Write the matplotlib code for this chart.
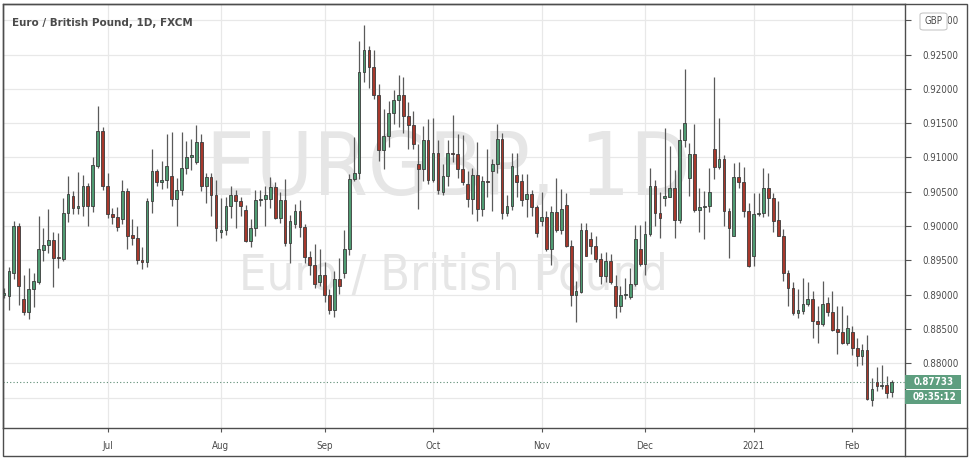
import numpy as np
import pandas as pd
import matplotlib
matplotlib.use("Agg")
import matplotlib.pyplot as plt
from matplotlib import font_manager
from matplotlib.patches import Rectangle, FancyBboxPatch
from matplotlib.lines import Line2D

# EUR/GBP daily bars, FXCM, 2 Jun 2020 - 11 Feb 2021 (Dec 25 / Jan 1 have no bar)
title = "Euro / British Pound, 1D, FXCM"
symbol = "EURGBP, 1D"
description = "Euro / British Pound"
currency = "GBP"
countdown = "09:35:12"

opens = [
    # Jun
    0.8900, 0.8898, 0.8932, 0.9000, 0.8894, 0.8875, 0.8908, 0.8919, 0.8965, 0.8973,
    0.8980, 0.8955, 0.8952, 0.9019, 0.9044, 0.9026, 0.9029, 0.9059, 0.9030, 0.9088, 0.9139,
    # Jul
    0.9059, 0.9018, 0.9013, 0.9011, 0.9051, 0.8987, 0.8983, 0.8951, 0.8948, 0.9036,
    0.9080, 0.9064, 0.9067, 0.9073, 0.9039, 0.9052, 0.9084, 0.9100, 0.9094, 0.9122,
    0.9058, 0.9071, 0.9046,
    # Aug
    0.8991, 0.8995, 0.9029, 0.9046, 0.9036, 0.9024, 0.8978, 0.8997, 0.9038, 0.9040,
    0.9040, 0.9057, 0.9012, 0.9038, 0.8975, 0.9003, 0.9022, 0.8998, 0.8955, 0.8944, 0.8918,
    # Sep
    0.8928, 0.8900, 0.8878, 0.8923, 0.8931, 0.8966, 0.9068, 0.9078, 0.9225, 0.9257,
    0.9232, 0.9191, 0.9111, 0.9131, 0.9165, 0.9184, 0.9191, 0.9160, 0.9147, 0.9091,
    0.9083, 0.9125,
    # Oct
    0.9067, 0.9106, 0.9049, 0.9073, 0.9107, 0.9105, 0.9083, 0.9062, 0.9039, 0.9075,
    0.9025, 0.9066, 0.9080, 0.9091, 0.9127, 0.9019, 0.9029, 0.9075, 0.9066, 0.9039,
    0.9047, 0.9028,
    # Nov
    0.9008, 0.9013, 0.8967, 0.9021, 0.8994, 0.9031, 0.8971, 0.8900, 0.8904, 0.8995,
    0.8981, 0.8971, 0.8952, 0.8927, 0.8949, 0.8913, 0.8883, 0.8899, 0.8897, 0.8916, 0.8967,
    # Dec
    0.8945, 0.8988, 0.9059, 0.9019, 0.9041, 0.9043, 0.9055, 0.9009, 0.9126, 0.9070,
    0.9105, 0.9023, 0.9028, 0.9029, 0.9112, 0.9086, 0.9098, 0.9022, 0.8986, 0.9072,
    0.9065, 0.9022,
    # Jan
    0.8957, 0.9018, 0.9019, 0.9055, 0.9041, 0.9009, 0.8986, 0.8932, 0.8910, 0.8874,
    0.8876, 0.8886, 0.8894, 0.8862, 0.8858, 0.8888, 0.8875, 0.8850, 0.8845, 0.8830,
    # Feb
    0.8845, 0.8823, 0.8811, 0.8819, 0.8747, 0.8773, 0.8767, 0.8769, 0.8758,
]
highs = [
    0.8910, 0.8940, 0.9007, 0.9005, 0.8929, 0.8939, 0.8931, 0.9015, 0.8997, 0.9025,
    0.8991, 0.8990, 0.9041, 0.9073, 0.9051, 0.9079, 0.9075, 0.9063, 0.9100, 0.9175, 0.9144,
    0.9078, 0.9026, 0.9028, 0.9067, 0.9055, 0.9011, 0.9000, 0.8969, 0.9041, 0.9112,
    0.9083, 0.9095, 0.9134, 0.9137, 0.9070, 0.9137, 0.9124, 0.9127, 0.9147, 0.9134,
    0.9078, 0.9077, 0.9067,
    0.9041, 0.9042, 0.9059, 0.9052, 0.9042, 0.9031, 0.9010, 0.9053, 0.9053, 0.9059,
    0.9071, 0.9064, 0.9050, 0.9068, 0.9016, 0.9032, 0.9038, 0.9003, 0.8963, 0.8974, 0.8967,
    0.8947, 0.8908, 0.8935, 0.8953, 0.8995, 0.9076, 0.9130, 0.9270, 0.9293, 0.9262,
    0.9257, 0.9207, 0.9170, 0.9183, 0.9198, 0.9220, 0.9217, 0.9181, 0.9168, 0.9120,
    0.9146, 0.9156,
    0.9158, 0.9125, 0.9090, 0.9126, 0.9162, 0.9134, 0.9133, 0.9080, 0.9085, 0.9122,
    0.9073, 0.9112, 0.9098, 0.9149, 0.9136, 0.9046, 0.9107, 0.9106, 0.9076, 0.9076,
    0.9053, 0.9031,
    0.9049, 0.9022, 0.9029, 0.9070, 0.9054, 0.9048, 0.8980, 0.8920, 0.9005, 0.9004,
    0.8992, 0.8985, 0.8961, 0.8962, 0.8960, 0.8929, 0.8912, 0.8925, 0.8939, 0.9002, 0.9002,
    0.9007, 0.9085, 0.9067, 0.9050, 0.9143, 0.9117, 0.9082, 0.9141, 0.9229, 0.9121,
    0.9149, 0.9055, 0.9051, 0.9085, 0.9218, 0.9157, 0.9104, 0.9026, 0.9092, 0.9093,
    0.9086, 0.9033,
    0.9048, 0.9048, 0.9085, 0.9077, 0.9048, 0.9036, 0.8996, 0.8936, 0.8918, 0.8908,
    0.8925, 0.8918, 0.8905, 0.8883, 0.8920, 0.8897, 0.8905, 0.8884, 0.8883, 0.8871,
    0.8854, 0.8837, 0.8828, 0.8841, 0.8778, 0.8794, 0.8797, 0.8781, 0.8776,
]
lows = [
    0.8895, 0.8877, 0.8923, 0.8885, 0.8870, 0.8865, 0.8882, 0.8916, 0.8949, 0.8961,
    0.8911, 0.8939, 0.8949, 0.9006, 0.9018, 0.9018, 0.9015, 0.9000, 0.9020, 0.9084, 0.9053,
    0.9012, 0.9003, 0.8993, 0.9003, 0.8966, 0.8972, 0.8945, 0.8938, 0.8940, 0.9019,
    0.9058, 0.9054, 0.9056, 0.9030, 0.9000, 0.9046, 0.9076, 0.9082, 0.9090, 0.9051,
    0.9034, 0.9015, 0.8979,
    0.8982, 0.8987, 0.9012, 0.8997, 0.9014, 0.8977, 0.8970, 0.8985, 0.9029, 0.9000,
    0.9026, 0.9010, 0.9005, 0.8971, 0.8946, 0.8997, 0.8984, 0.8946, 0.8929, 0.8910, 0.8912,
    0.8889, 0.8872, 0.8867, 0.8901, 0.8925, 0.8958, 0.9066, 0.9068, 0.9210, 0.9202,
    0.9185, 0.9095, 0.9083, 0.9116, 0.9149, 0.9144, 0.9135, 0.9113, 0.9113, 0.9025,
    0.9066, 0.9062,
    0.9065, 0.9047, 0.9046, 0.9059, 0.9094, 0.9070, 0.9060, 0.9028, 0.9018, 0.9007,
    0.9015, 0.9043, 0.9022, 0.9078, 0.9010, 0.9015, 0.9024, 0.9042, 0.9029, 0.9013,
    0.9014, 0.8984,
    0.9000, 0.8963, 0.8944, 0.8991, 0.8989, 0.8970, 0.8883, 0.8860, 0.8902, 0.8956,
    0.8960, 0.8947, 0.8915, 0.8918, 0.8915, 0.8866, 0.8875, 0.8894, 0.8894, 0.8913, 0.8942,
    0.8929, 0.8985, 0.9000, 0.8983, 0.9029, 0.9042, 0.8983, 0.9005, 0.9115, 0.9044,
    0.9020, 0.8991, 0.8981, 0.9020, 0.9069, 0.9083, 0.9000, 0.8954, 0.8985, 0.9055,
    0.9013, 0.8940,
    0.8942, 0.9014, 0.9013, 0.9014, 0.8992, 0.8985, 0.8920, 0.8883, 0.8870, 0.8866,
    0.8872, 0.8883, 0.8837, 0.8830, 0.8854, 0.8869, 0.8847, 0.8813, 0.8828, 0.8826,
    0.8812, 0.8796, 0.8798, 0.8747, 0.8738, 0.8760, 0.8762, 0.8750, 0.8751,
]
closes = [
    0.8903, 0.8934, 0.9000, 0.8912, 0.8875, 0.8908, 0.8920, 0.8966, 0.8973, 0.8980,
    0.8954, 0.8953, 0.9019, 0.9047, 0.9026, 0.9030, 0.9059, 0.9030, 0.9089, 0.9139, 0.9058,
    0.9018, 0.9013, 0.8999, 0.9051, 0.8986, 0.8983, 0.8950, 0.8948, 0.9037, 0.9080,
    0.9064, 0.9067, 0.9087, 0.9039, 0.9053, 0.9084, 0.9100, 0.9104, 0.9122, 0.9058,
    0.9071, 0.9045, 0.8997,
    0.8995, 0.9029, 0.9046, 0.9036, 0.9030, 0.8978, 0.8997, 0.9038, 0.9040, 0.9046,
    0.9057, 0.9012, 0.9038, 0.8975, 0.9007, 0.9022, 0.8998, 0.8955, 0.8944, 0.8916, 0.8928,
    0.8900, 0.8878, 0.8923, 0.8912, 0.8966, 0.9068, 0.9078, 0.9225, 0.9257, 0.9232,
    0.9191, 0.9111, 0.9131, 0.9165, 0.9184, 0.9191, 0.9160, 0.9147, 0.9120, 0.9083,
    0.9125, 0.9067,
    0.9106, 0.9053, 0.9073, 0.9106, 0.9105, 0.9083, 0.9064, 0.9039, 0.9075, 0.9025,
    0.9066, 0.9064, 0.9091, 0.9127, 0.9019, 0.9030, 0.9088, 0.9065, 0.9038, 0.9047,
    0.9028, 0.8990,
    0.9013, 0.8967, 0.9021, 0.8994, 0.9025, 0.8971, 0.8900, 0.8905, 0.8995, 0.8957,
    0.8971, 0.8952, 0.8927, 0.8949, 0.8918, 0.8883, 0.8899, 0.8901, 0.8916, 0.8981, 0.8945,
    0.8988, 0.9059, 0.9019, 0.9012, 0.9044, 0.9056, 0.9009, 0.9126, 0.9151, 0.9105,
    0.9023, 0.9028, 0.9030, 0.9050, 0.9086, 0.9098, 0.9022, 0.8997, 0.9072, 0.9065,
    0.9022, 0.8942,
    0.9018, 0.9019, 0.9055, 0.9041, 0.9007, 0.8986, 0.8932, 0.8910, 0.8874, 0.8878,
    0.8887, 0.8894, 0.8862, 0.8858, 0.8887, 0.8875, 0.8849, 0.8845, 0.8830, 0.8852,
    0.8823, 0.8811, 0.8819, 0.8748, 0.8763, 0.8767, 0.8769, 0.8757, 0.87733,
]
month_labels = ["Jul", "Aug", "Sep", "Oct", "Nov", "Dec", "2021", "Feb"]

dates = pd.bdate_range("2020-06-02", "2021-02-11")
dates = dates[~dates.isin(pd.to_datetime(["2020-12-25", "2021-01-01"]))]

o = np.array(opens)
h = np.array(highs)
l = np.array(lows)
c = np.array(closes)
x = np.arange(len(dates))

# first bar of every month after the first one
month_start = [i for i in range(1, len(dates)) if dates[i].month != dates[i - 1].month]

# prefer a narrow face, the chart's own font is a condensed one
fonts = font_manager.fontManager.ttflist
names = {f.name for f in fonts}
STRETCH = "normal"
if "Liberation Sans Narrow" in names:
    FONT = "Liberation Sans Narrow"
elif any(f.name == "DejaVu Sans" and f.stretch == "condensed" for f in fonts):
    FONT, STRETCH = "DejaVu Sans", "condensed"
elif "Roboto Condensed" in names:
    FONT = "Roboto Condensed"
else:
    FONT = "Liberation Sans"
plt.rcParams["font.family"] = [FONT, "DejaVu Sans"]
plt.rcParams["font.stretch"] = STRETCH
LABEL_SIZE = 8 if FONT == "Liberation Sans Narrow" else 7

W, H = 971, 461
fig = plt.figure(figsize=(W / 100, H / 100), dpi=100)
fig.patch.set_facecolor("white")


def fx(px):
    return px / W


def fy(py):
    return 1 - py / H


def fit_width(t, target_px):
    # scale a text so it spans the same width as in the screenshot
    r = fig.canvas.get_renderer()
    w = t.get_window_extent(r).width
    t.set_fontsize(t.get_fontsize() * target_px / w)


ax = fig.add_axes([fx(3), fy(428), fx(904.5) - fx(3), fy(4.3) - fy(428)])
ax.set_axisbelow(True)

UP = "#4f9b72"
DOWN = "#a6382c"
EDGE = "#3b3b3b"
WICK = "#5a5a5a"

up = c >= o
ax.vlines(x, l, h, color=WICK, lw=0.9, zorder=2)
body_low = np.minimum(o, c)
body_h = np.maximum(np.abs(c - o), 0.00007)
ax.bar(x, body_h, bottom=body_low, width=0.56,
       color=np.where(up, UP, DOWN), edgecolor=EDGE, linewidth=0.6, zorder=3)

# last price line
ax.axhline(c[-1], color="#5d8c74", lw=0.8, ls=(0, (1, 2)), zorder=2)

ax.set_xlim(-0.2, 182.6)
ax.set_ylim(0.87057, 0.93233)

ax.set_xticks(month_start)
ax.set_xticklabels(month_labels)
yt = np.arange(0.875, 0.93001, 0.005)
ax.set_yticks(yt)
# the lowest level sits under the countdown badge, so it has no label
ax.set_yticklabels([f"{v:.5f}" if v > 0.8775 else "" for v in yt])
ax.yaxis.tick_right()

ax.grid(True, color="#e8e8e8", lw=0.9)
ax.tick_params(axis="y", direction="out", length=4, width=0.8, color="#555555",
               pad=9, labelsize=LABEL_SIZE, labelcolor="#4a4a4a")
ax.tick_params(axis="x", direction="out", length=3, width=0.8, color="#555555",
               pad=6, labelsize=LABEL_SIZE, labelcolor="#4a4a4a")
for s in ax.spines.values():
    s.set_color("#4d4d4d")
    s.set_linewidth(1)

# watermark
wm1 = ax.text(fx(448), fy(195), symbol, transform=fig.transFigure, ha="center",
              va="baseline", fontsize=70, color="#e6e6e6", zorder=0.6)
wm2 = ax.text(fx(453), fy(290), description, transform=fig.transFigure, ha="center",
              va="baseline", fontsize=41, color="#e6e6e6", zorder=0.6)

# title
ttl = fig.text(fx(12), fy(26), title, fontsize=9.5, fontweight="bold", color="#4a4a4a",
               va="baseline")

fit_width(wm1, 485)
fit_width(wm2, 430)
fit_width(ttl, 181)

# outer frame and axis separators
fig.add_artist(Rectangle((fx(3), fy(456)), fx(967) - fx(3), fy(4) - fy(456),
                         transform=fig.transFigure, fill=False, ec="#4d4d4d", lw=1))
fig.add_artist(Line2D([fx(904.5), fx(967)], [fy(428), fy(428)],
                      transform=fig.transFigure, color="#4d4d4d", lw=1))
fig.add_artist(Line2D([fx(904.5), fx(904.5)], [fy(428), fy(456)],
                      transform=fig.transFigure, color="#4d4d4d", lw=1))

# currency badge over the top price label
fig.add_artist(FancyBboxPatch((fx(920), fy(30)), fx(947) - fx(920), fy(13) - fy(30),
                              boxstyle="round,pad=0,rounding_size=0.004",
                              transform=fig.transFigure, fc="white", ec="#c8c8c8",
                              lw=0.8, zorder=5))
fig.text(fx(933.5), fy(21.5), currency, ha="center", va="center", fontsize=LABEL_SIZE,
         color="#4a4a4a", zorder=6)

# last price / countdown labels
GREEN = "#5e9e7f"
for (top, bot, txt) in [(375, 388.5, f"{c[-1]:.5f}"), (389.5, 403.5, countdown)]:
    fig.add_artist(Rectangle((fx(904.5), fy(bot)), fx(961) - fx(904.5), fy(top) - fy(bot),
                             transform=fig.transFigure, fc=GREEN, ec="none", zorder=5))
    fig.text(fx(934), fy((top + bot) / 2), txt, ha="center", va="center",
             fontsize=LABEL_SIZE, fontweight="bold", color="white", zorder=6)

fig.savefig("out.png", dpi=100, facecolor="white")
